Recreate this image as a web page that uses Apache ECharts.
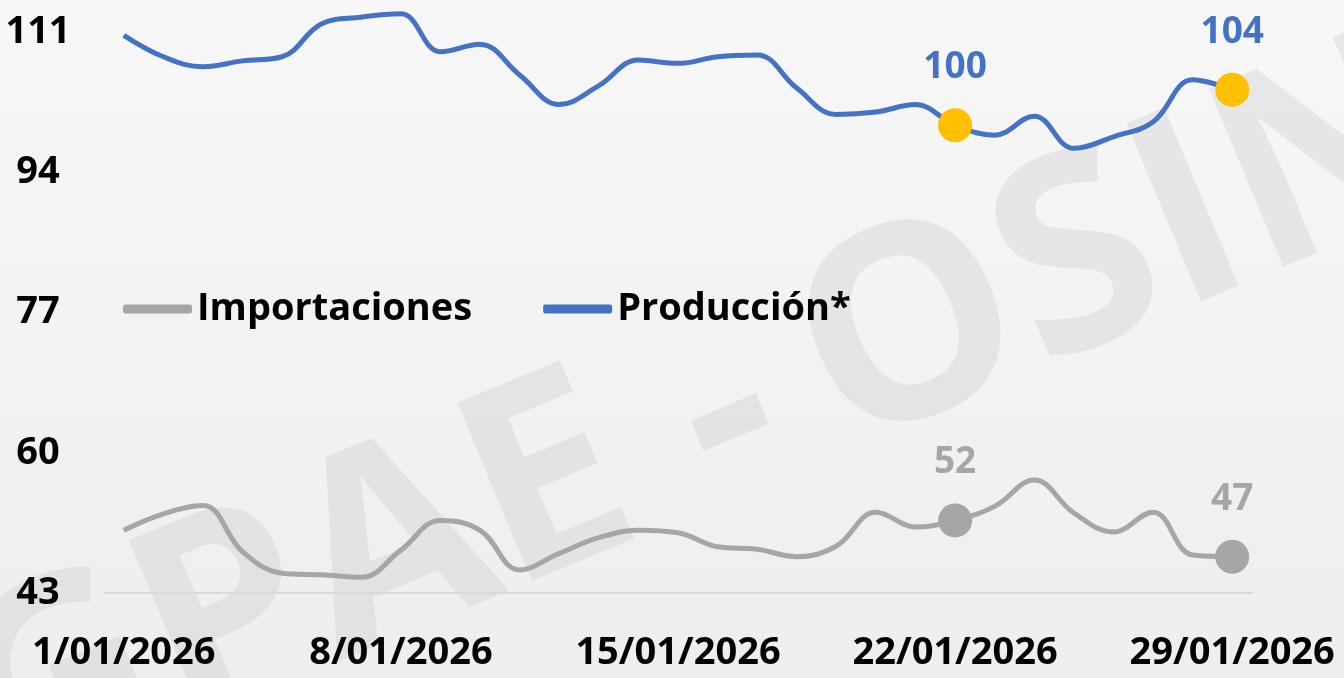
<!DOCTYPE html>
<html>
<head>
<meta charset="utf-8">
<script src="https://cdn.jsdelivr.net/npm/echarts@6/dist/echarts.min.js"></script>
<style>
  html, body { margin: 0; padding: 0; }
  #chart { width: 1344px; height: 678px; }
</style>
</head>
<body>
<div id="chart"></div>
<script>
// días de enero 2026
const dias = [];
for (let d = 1; d <= 29; d++) dias.push(d + '/01/2026');

const importaciones = [
  50.6, 52.6, 53.6, 48.0, 45.4, 45.2, 44.9, 48.2, 51.8, 50.6,
  45.8, 47.8, 49.7, 50.6, 50.3, 48.6, 48.3, 47.4, 48.7, 52.8,
  51.0, 51.8, 53.5, 56.7, 52.7, 50.4, 52.8, 47.6, 47.4
];
const produccion = [
  110.6, 108.0, 106.8, 107.5, 108.0, 112.0, 112.8, 113.2, 108.6, 109.5,
  105.8, 102.2, 104.5, 107.6, 107.2, 108.0, 108.2, 104.2, 101.0, 101.3,
  102.2, 99.7, 98.5, 100.8, 96.9, 98.3, 100.1, 105.2, 104.0
];
// puntos destacados (22/01 y 29/01)
const destacados = [21, 28];

const COLORS = {
  imp: '#A6A6A6',
  prod: '#4472C4',
  marcaProd: '#FFC000',
  eje: '#D9D9D9',
  texto: '#000000',
  agua: 'rgba(200,200,200,0.33)',
};
const FONT = '"Open Sans"';

function conMarcas(values, color, labelColor) {
  return values.map((v, i) => {
    if (!destacados.includes(i)) return v;
    return {
      value: v,
      symbolSize: 34,
      itemStyle: { color: color },
      label: {
        show: true, position: 'top', distance: 22,
        formatter: p => Math.round(p.value),
        color: labelColor, fontFamily: FONT, fontWeight: 700, fontSize: 37,
      },
    };
  });
}

const chart = echarts.init(document.getElementById('chart'));

const aguaStyle = { fontFamily: FONT, fontWeight: 700, fontSize: 270, fill: COLORS.agua };

const option = {
  backgroundColor: {
    type: 'linear', x: 0, y: 0, x2: 0, y2: 1,
    colorStops: [{ offset: 0, color: '#f7f7f7' }, { offset: 1, color: '#eeeeee' }],
  },
  animation: false,
  graphic: [
    {
      // marca de agua (el guion va aparte)
      type: 'text', x: -29, y: 732, rotation: 0.396, z: -10, silent: true,
      style: Object.assign({ text: 'GPAE   OSINERGMIN', align: 'left', verticalAlign: 'middle' }, aguaStyle),
    },
    {
      type: 'text', x: 728, y: 418, rotation: 0.396, z: -10, silent: true,
      style: Object.assign({ text: '-', align: 'center', verticalAlign: 'middle' }, aguaStyle),
    },
  ],
  legend: {
    left: 118, top: 285,
    itemWidth: 69, itemHeight: 9, itemGap: 71,
    data: [
      { name: 'Importaciones', icon: 'roundRect' },
      { name: 'Producción*', icon: 'roundRect' },
    ],
    textStyle: { color: COLORS.texto, fontFamily: FONT, fontWeight: 700, fontSize: 38 },
  },
  grid: { left: 104, right: 92, top: 7.25, bottom: 85 },
  xAxis: {
    type: 'category',
    data: dias,
    boundaryGap: true,
    axisLine: { lineStyle: { color: COLORS.eje, width: 2 } },
    axisTick: { show: false },
    axisLabel: {
      interval: 6, margin: 41,
      color: COLORS.texto, fontFamily: FONT, fontWeight: 700, fontSize: 38,
    },
    splitLine: { show: false },
  },
  yAxis: {
    type: 'value',
    min: 43, max: 114, interval: 17,
    axisLine: { show: false },
    axisTick: { show: false },
    splitLine: { show: false },
    axisLabel: {
      margin: 66, align: 'center', showMaxLabel: false,
      color: COLORS.texto, fontFamily: FONT, fontWeight: 700, fontSize: 38,
    },
  },
  series: [
    {
      name: 'Importaciones', type: 'line',
      data: conMarcas(importaciones, COLORS.imp, COLORS.imp),
      smooth: 0.4, symbol: 'circle', symbolSize: 0, showAllSymbol: true,
      lineStyle: { color: COLORS.imp, width: 5 },
      itemStyle: { color: COLORS.imp },
    },
    {
      name: 'Producción*', type: 'line',
      data: conMarcas(produccion, COLORS.marcaProd, COLORS.prod),
      smooth: 0.4, symbol: 'circle', symbolSize: 0, showAllSymbol: true,
      clip: false,
      lineStyle: { color: COLORS.prod, width: 5 },
      itemStyle: { color: COLORS.prod },
    },
  ],
};

chart.setOption(option);
</script>
</body>
</html>
